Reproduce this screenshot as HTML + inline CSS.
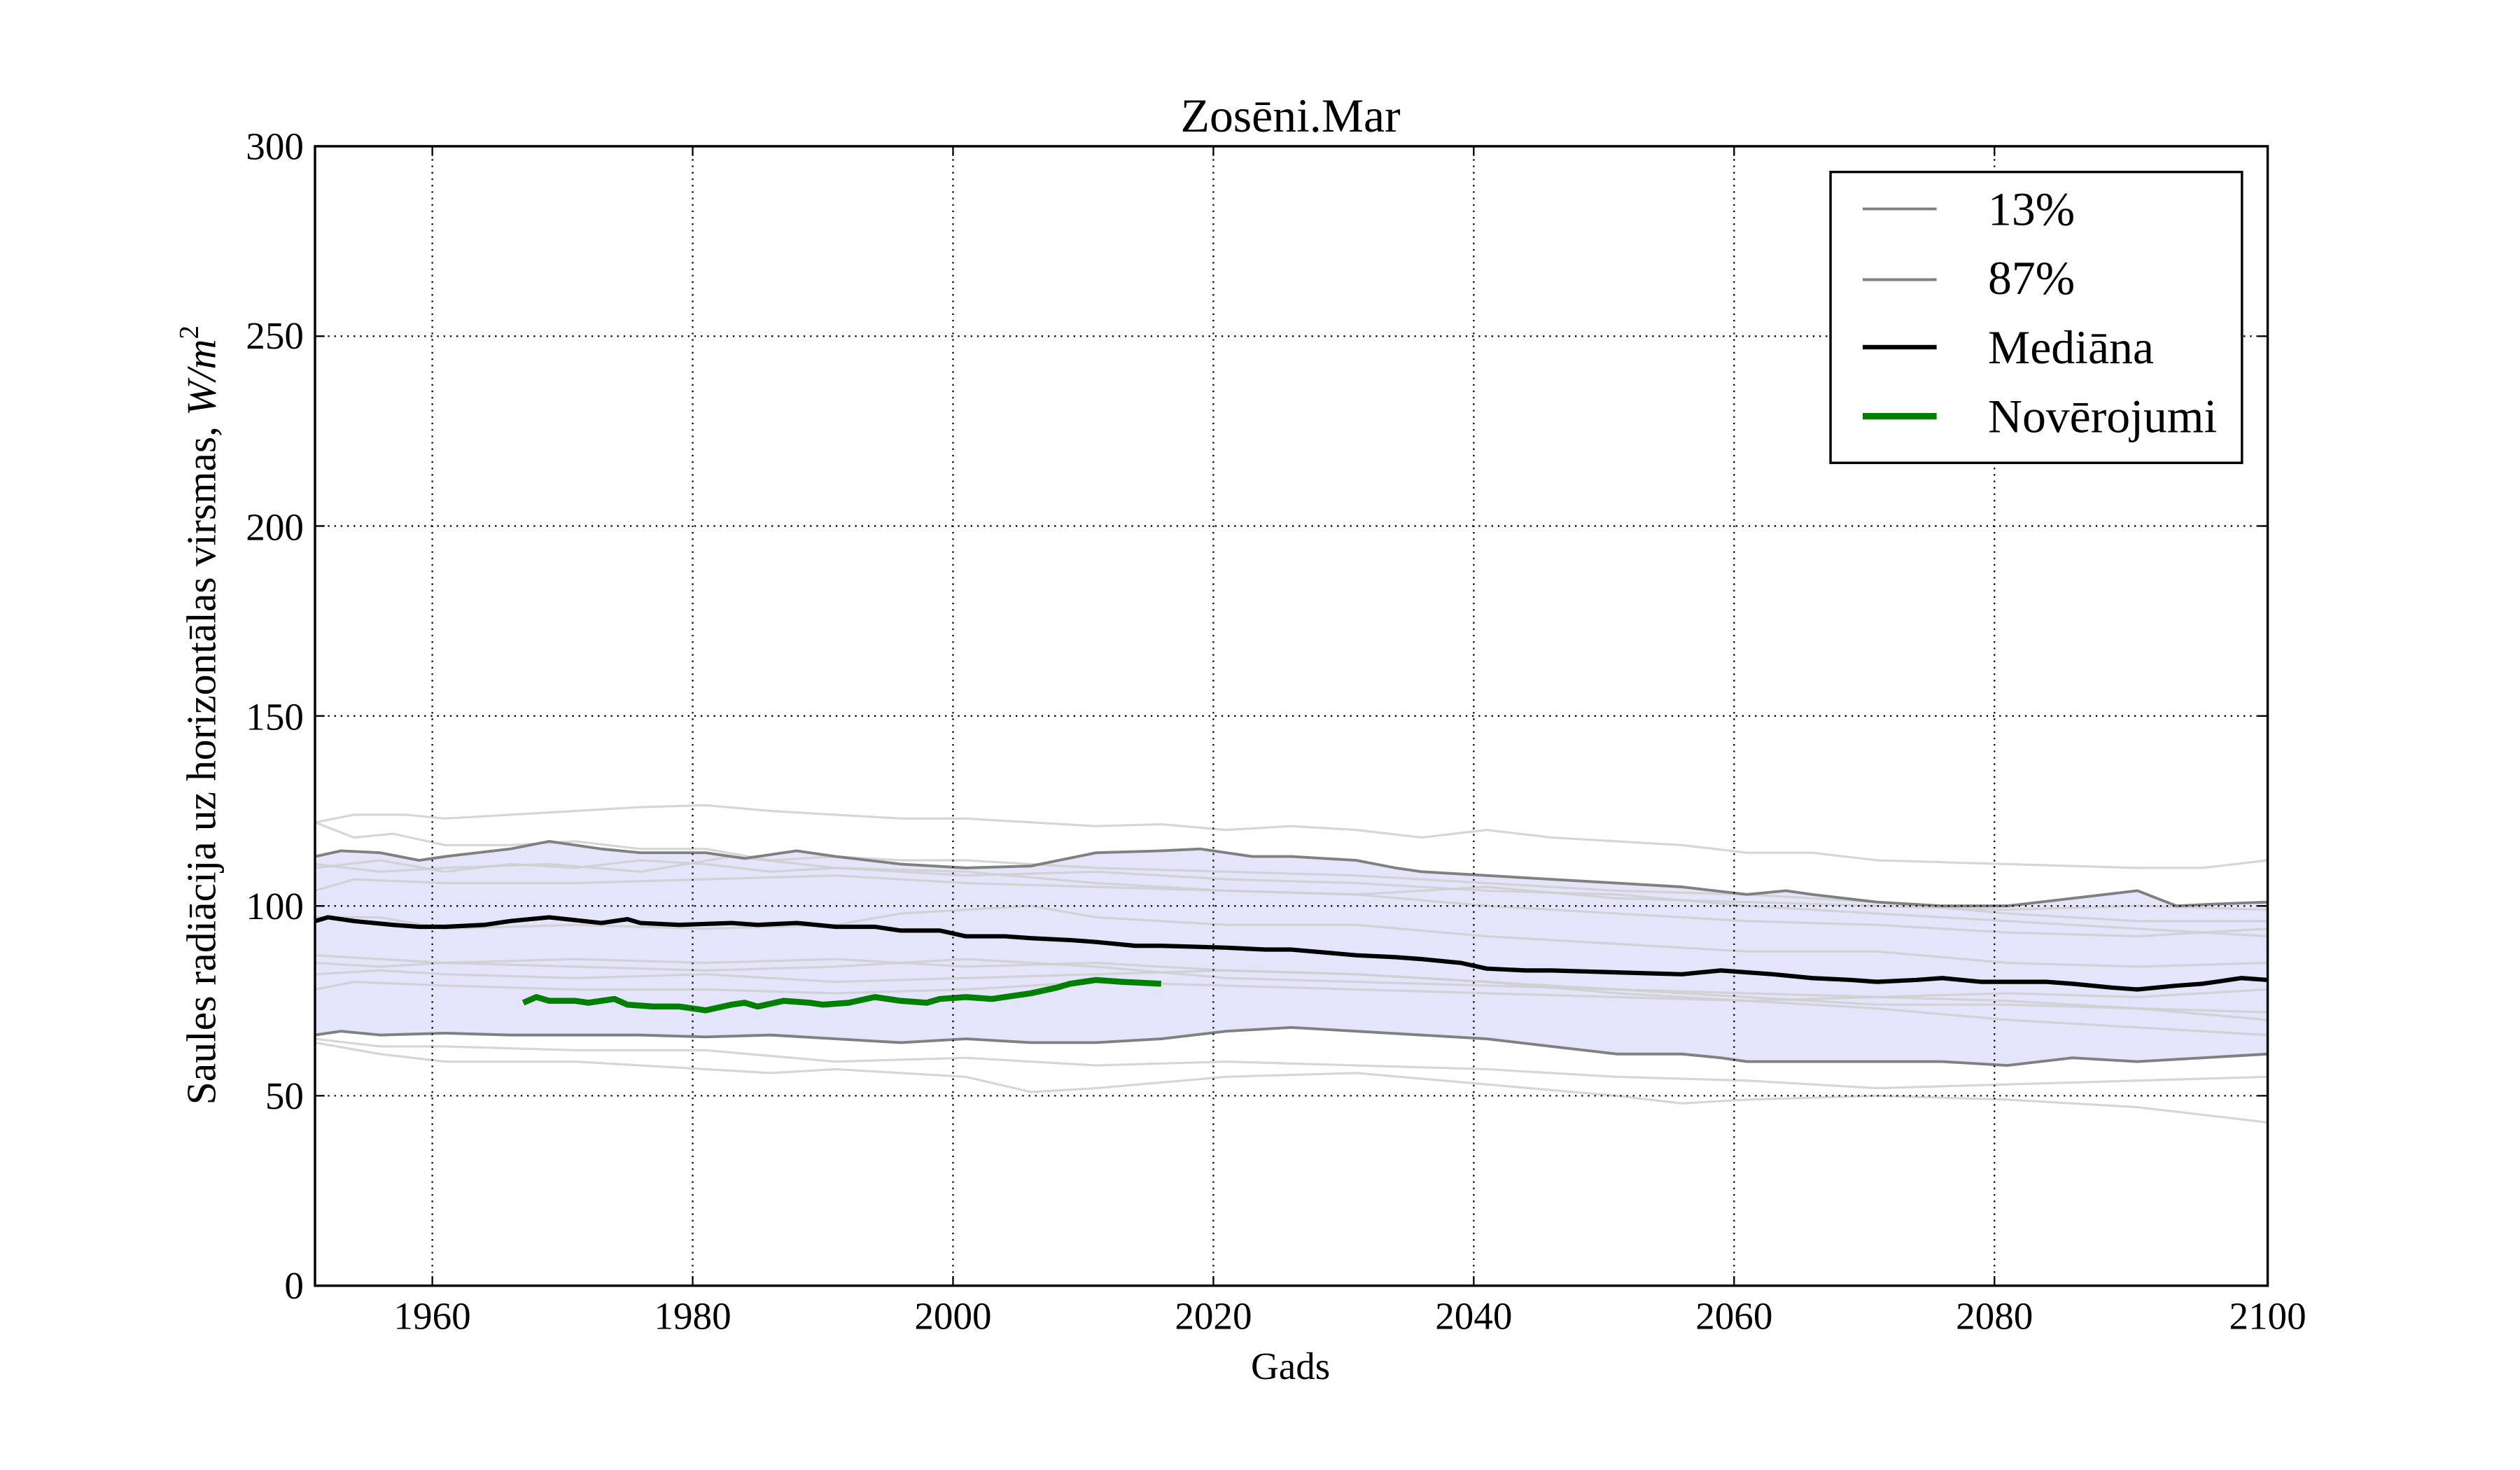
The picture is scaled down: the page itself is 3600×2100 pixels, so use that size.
<!DOCTYPE html>
<html><head><meta charset="utf-8"><style>
html,body{margin:0;padding:0;background:#fff;}
svg{display:block;}
text{font-family:"Liberation Serif",serif;fill:#000;}
</style></head><body>
<svg width="3600" height="2100" viewBox="0 0 1568 914.67" preserveAspectRatio="none" xmlns="http://www.w3.org/2000/svg">
<rect width="1568" height="915" fill="#fff"/>
<g transform="translate(196,800) scale(8.1,-2.3633) translate(-1950,0)" fill="none" stroke-linejoin="round">
  <polygon fill="#e4e4fb" stroke="none" points="1950,113 1952,114.5 1955,114 1958,112 1960,113 1965,115 1968,117 1972,115 1975,114 1980,114 1983,112.5 1987,114.5 1990,113 1995,111 2000,110 2005,110.5 2010,114 2015,114.5 2018,115 2022,113 2025,113 2030,112 2033,110 2035,109 2040,108 2045,107 2050,106 2055,105 2060,103 2063,104 2065,103 2070,101 2075,100 2080,100 2085,102 2090,104 2093,100 2096,100.5 2100,101 2100,61 2095,60 2090,59 2085,60 2080,58 2075,59 2070,59 2065,59 2060,59 2058,60 2055,61 2050,61 2045,63 2040,65 2035,66 2030,67 2025,68 2020,67 2015,65 2010,64 2005,64 2000,65 1995,64 1990,65 1985,66 1980,65.5 1975,66 1970,66 1965,66 1960,66.5 1955,66 1952,67 1950,66"/>
  <g stroke="#cfcfcf" stroke-opacity="0.85">
    <polyline vector-effect="non-scaling-stroke" stroke-width="3.2" points="1950,122 1953,124 1957,124 1960,123 1965,124 1970,125 1975,126 1980,126.5 1985,125 1990,124 1995,123 2000,123 2005,122 2010,121 2015,121.5 2020,120 2025,121 2030,120 2035,118 2040,120 2045,118 2050,117 2055,116 2060,114 2065,114 2070,112 2080,111 2090,110 2095,110 2100,112"/>
    <polyline vector-effect="non-scaling-stroke" stroke-width="3.2" points="1950,122 1953,118 1956,119 1960,116 1965,116 1970,117 1975,115 1980,115 1985,112 1990,113 1995,112 2000,112 2005,111 2010,110 2020,109 2030,108 2040,106 2050,104 2060,103 2070,101 2080,98 2090,96 2100,96"/>
    <polyline vector-effect="non-scaling-stroke" stroke-width="3.2" points="1950,110 1955,112 1960,109 1965,111 1970,110 1975,112 1980,111 1985,109 1990,110 2000,109 2010,106 2020,104 2030,103 2040,105 2050,102 2060,101 2070,100 2080,99 2090,100 2100,99"/>
    <polyline vector-effect="non-scaling-stroke" stroke-width="3.2" points="1950,111 1955,109 1960,110 1968,111 1975,109 1982,113 1990,110 2000,108 2010,109 2020,107 2030,106 2040,104 2050,103 2060,100 2070,98 2080,96 2090,94 2100,92"/>
    <polyline vector-effect="non-scaling-stroke" stroke-width="3.2" points="1950,104 1953,107 1960,106 1970,106 1980,107 1990,108 2000,106 2010,105 2020,104 2030,103 2040,100 2050,98 2060,96 2070,95 2080,93 2090,92 2100,94"/>
    <polyline vector-effect="non-scaling-stroke" stroke-width="3.2" points="1950,97 1955,97 1960,94 1970,95 1980,94 1990,95 1995,98 2000,99 2005,100 2010,97 2020,95 2030,95 2040,92 2050,90 2060,88 2070,88 2080,85 2090,84 2100,85"/>
    <polyline vector-effect="non-scaling-stroke" stroke-width="3.2" points="1950,87 1955,86 1960,85 1970,86 1980,85 1990,86 2000,84 2010,85 2020,83 2030,82 2040,80 2050,78 2060,77 2070,76 2080,75 2090,73 2100,70"/>
    <polyline vector-effect="non-scaling-stroke" stroke-width="3.2" points="1950,85 1955,84 1960,85 1970,84 1980,83 1990,84 2000,86 2010,84 2020,81 2030,80 2040,79 2050,78 2060,76 2070,74 2080,74 2090,73 2100,72"/>
    <polyline vector-effect="non-scaling-stroke" stroke-width="3.2" points="1950,82 1955,83 1960,82 1970,81 1980,82 1990,80 2000,81 2010,82 2020,83 2030,82 2040,80 2050,77 2060,75 2070,73 2080,70 2090,68 2100,66"/>
    <polyline vector-effect="non-scaling-stroke" stroke-width="3.2" points="1950,78 1953,80 1960,79 1970,78 1980,78 1990,77 2000,78 2010,80 2020,79 2030,78 2040,77 2050,76 2060,75 2070,76 2080,77 2090,76 2100,78"/>
    <polyline vector-effect="non-scaling-stroke" stroke-width="3.2" points="1950,65 1955,63 1960,63 1970,62 1980,62 1990,59 2000,60 2010,58 2020,59 2030,58 2040,57 2050,55 2060,54 2070,52 2080,53 2090,54 2100,55"/>
    <polyline vector-effect="non-scaling-stroke" stroke-width="3.2" points="1950,64 1955,61 1960,59 1970,59 1980,57 1985,56 1990,57 2000,55 2005,51 2010,52 2020,55 2030,56 2040,53 2050,50 2055,48 2060,49 2070,50 2080,49 2090,47 2100,43"/>
  </g>
  <polyline vector-effect="non-scaling-stroke" stroke="#808080" stroke-width="3.9" points="1950,113 1952,114.5 1955,114 1958,112 1960,113 1965,115 1968,117 1972,115 1975,114 1980,114 1983,112.5 1987,114.5 1990,113 1995,111 2000,110 2005,110.5 2010,114 2015,114.5 2018,115 2022,113 2025,113 2030,112 2033,110 2035,109 2040,108 2045,107 2050,106 2055,105 2060,103 2063,104 2065,103 2070,101 2075,100 2080,100 2085,102 2090,104 2093,100 2096,100.5 2100,101"/>
  <polyline vector-effect="non-scaling-stroke" stroke="#808080" stroke-width="3.9" points="1950,66 1952,67 1955,66 1960,66.5 1965,66 1970,66 1975,66 1980,65.5 1985,66 1990,65 1995,64 2000,65 2005,64 2010,64 2015,65 2020,67 2025,68 2030,67 2035,66 2040,65 2045,63 2050,61 2055,61 2058,60 2060,59 2065,59 2070,59 2075,59 2080,58 2085,60 2090,59 2095,60 2100,61"/>
  <polyline vector-effect="non-scaling-stroke" stroke="#000" stroke-width="6.2" points="1950,96 1951,97 1953,96 1956,95 1958,94.5 1960,94.5 1963,95 1965,96 1968,97 1972,95.5 1974,96.5 1975,95.5 1978,95 1982,95.5 1984,95 1987,95.5 1990,94.5 1993,94.5 1995,93.5 1998,93.5 2000,92 2003,92 2005,91.5 2008,91 2010,90.5 2013,89.5 2015,89.5 2020,89 2023,88.5 2025,88.5 2030,87 2033,86.5 2035,86 2038,85 2040,83.5 2043,83 2045,83 2050,82.5 2055,82 2058,83 2062,82 2065,81 2068,80.5 2070,80 2073,80.5 2075,81 2078,80 2080,80 2083,80 2085,79.5 2088,78.5 2090,78 2093,79 2095,79.5 2098,81 2100,80.5"/>
  <polyline vector-effect="non-scaling-stroke" stroke="#008000" stroke-width="8.5" points="1966,74.5 1967,76 1968,75 1970,75 1971,74.5 1973,75.5 1974,74 1976,73.5 1978,73.5 1980,72.5 1982,74 1983,74.5 1984,73.5 1986,75 1988,74.5 1989,74 1991,74.5 1993,76 1995,75 1997,74.5 1998,75.5 2000,76 2002,75.5 2005,77 2007,78.5 2008,79.5 2010,80.5 2012,80 2015,79.5"/>
</g>
<g stroke="#000" stroke-width="1" stroke-dasharray="1,3">
  <line x1="269" y1="91" x2="269" y2="800"/><line x1="431" y1="91" x2="431" y2="800"/><line x1="593" y1="91" x2="593" y2="800"/><line x1="755" y1="91" x2="755" y2="800"/><line x1="917" y1="91" x2="917" y2="800"/><line x1="1079" y1="91" x2="1079" y2="800"/><line x1="1241" y1="91" x2="1241" y2="800"/>
  <line x1="196" y1="681.8" x2="1411" y2="681.8"/><line x1="196" y1="563.7" x2="1411" y2="563.7"/><line x1="196" y1="445.5" x2="1411" y2="445.5"/><line x1="196" y1="327.3" x2="1411" y2="327.3"/><line x1="196" y1="209.2" x2="1411" y2="209.2"/>
</g>
<g stroke="#000" stroke-width="1">
  <path d="M269,800v-6M431,800v-6M593,800v-6M755,800v-6M917,800v-6M1079,800v-6M1241,800v-6M269,91v6M431,91v6M593,91v6M755,91v6M917,91v6M1079,91v6M1241,91v6"/>
  <path d="M196,681.8h6M196,563.7h6M196,445.5h6M196,327.3h6M196,209.2h6M1411,681.8h-6M1411,563.7h-6M1411,445.5h-6M1411,327.3h-6M1411,209.2h-6"/>
</g>
<rect x="196" y="91" width="1215" height="709" fill="none" stroke="#000" stroke-width="1.5"/>
<g font-size="24" text-anchor="end">
  <text x="189" y="808">0</text><text x="189" y="690">50</text><text x="189" y="572">100</text><text x="189" y="454">150</text><text x="189" y="336">200</text><text x="189" y="217">250</text><text x="189" y="99">300</text>
</g>
<g font-size="24" text-anchor="middle">
  <text x="269" y="827">1960</text><text x="431" y="827">1980</text><text x="593" y="827">2000</text><text x="755" y="827">2020</text><text x="917" y="827">2040</text><text x="1079" y="827">2060</text><text x="1241" y="827">2080</text><text x="1411" y="827">2100</text>
  <text x="803" y="858">Gads</text>
  <text x="803" y="82" font-size="29.5">Zosēni.Mar</text>
</g>
<text font-size="26" text-anchor="middle" transform="translate(134,445) rotate(-90)">Saules radiācija uz horizontālas virsmas, <tspan font-style="italic">W/m</tspan><tspan font-size="17" dy="-11">2</tspan></text>
<rect x="1139" y="107" width="256" height="181" fill="#fff" stroke="#000" stroke-width="1.5"/>
<line x1="1159" y1="130" x2="1205" y2="130" stroke="#808080" stroke-width="1.7"/>
<line x1="1159" y1="174" x2="1205" y2="174" stroke="#808080" stroke-width="1.7"/>
<line x1="1159" y1="216" x2="1205" y2="216" stroke="#000" stroke-width="2.8"/>
<line x1="1159" y1="259" x2="1205" y2="259" stroke="#008000" stroke-width="4"/>
<g font-size="29.5">
  <text x="1237" y="140">13%</text><text x="1237" y="183">87%</text><text x="1237" y="226">Mediāna</text><text x="1237" y="269">Novērojumi</text>
</g>
</svg>
</body></html>
